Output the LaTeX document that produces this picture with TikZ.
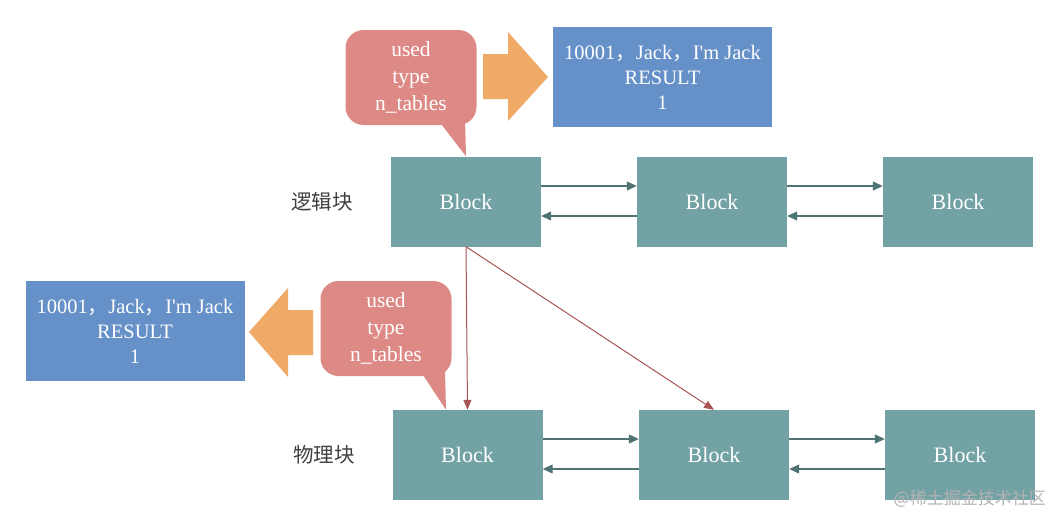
\documentclass[tikz,border=0pt]{standalone}
\usepackage{fontspec}
\setmainfont{Liberation Serif}
\newfontfamily\tms{Liberation Serif}
\newfontfamily\cjk{Noto Sans CJK SC}
\usetikzlibrary{arrows.meta}
\definecolor{blockc}{HTML}{73A2A5}
\definecolor{bluec}{HTML}{6690C8}
\definecolor{callc}{HTML}{DD8A86}
\definecolor{orangec}{HTML}{EEAA66}
\definecolor{linkc}{HTML}{4F7373}
\definecolor{redc}{HTML}{A85454}
\tikzset{
  blockbox/.style={fill=blockc, draw=none, minimum width=150pt, minimum height=90pt, inner sep=0pt, text=white, font=\tms\fontsize{22}{24}\selectfont},
  resbox/.style={fill=bluec, draw=none, minimum width=219pt, minimum height=100pt, inner sep=0pt, text=white, align=center, font=\tms\fontsize{20.5}{25}\selectfont},
  callbox/.style={fill=callc, draw=none, rounded corners=18pt, minimum width=131pt, minimum height=95pt, inner sep=0pt, text=white, align=center, font=\tms\fontsize{21.5}{27}\selectfont},
  rowlabel/.style={font=\cjk\fontsize{20.5}{24}\selectfont, text=black!75, inner sep=0pt},
  conn/.style={draw=linkc, line width=1.2pt, -{Triangle[length=10pt,width=9pt]}},
  redarrow/.style={draw=redc, line width=1pt, -{Triangle[length=10pt,width=8pt]}},
  bigarrow/.style={fill=orangec, draw=none}
}
\begin{document}
\begin{tikzpicture}[x=1pt,y=-1pt]
\useasboundingbox (0,0) rectangle (1064,530);

% top row
\node[blockbox] (t1) at (466,201.5) {Block};
\node[blockbox] (t2) at (712,201.5) {Block};
\node[blockbox] (t3) at (958,201.5) {Block};
% bottom row
\node[blockbox] (b1) at (467.5,455) {Block};
\node[blockbox] (b2) at (714,455) {Block};
\node[blockbox] (b3) at (960,455) {Block};

\node[rowlabel] (l1) at (322,201.5) {逻辑块};
\node[rowlabel] (l2) at (324,455) {物理块};

% links
\draw[conn] ([yshift=15.5pt]t1.east) -- ([yshift=15.5pt]t2.west);
\draw[conn] ([yshift=-14.5pt]t2.west) -- ([yshift=-14.5pt]t1.east);
\draw[conn] ([yshift=15.5pt]t2.east) -- ([yshift=15.5pt]t3.west);
\draw[conn] ([yshift=-14.5pt]t3.west) -- ([yshift=-14.5pt]t2.east);
\draw[conn] ([yshift=16pt]b1.east) -- ([yshift=16pt]b2.west);
\draw[conn] ([yshift=-14pt]b2.west) -- ([yshift=-14pt]b1.east);
\draw[conn] ([yshift=16pt]b2.east) -- ([yshift=16pt]b3.west);
\draw[conn] ([yshift=-14pt]b3.west) -- ([yshift=-14pt]b2.east);

% red mapping arrows
\draw[redarrow] (t1.south) -- (b1.north);
\draw[redarrow] (t1.south) -- (b2.north);

% result boxes
\node[resbox] (r1) at (662.5,77) {10001{\cjk ，}Jack{\cjk ，}I'm Jack\\RESULT\\1};
\node[resbox] (r2) at (135,331) {10001{\cjk ，}Jack{\cjk ，}I'm Jack\\RESULT\\1};

% callouts
\fill[callc] (438,120) -- (t1.north) -- (465,118) -- cycle;
\node[callbox] (c1) at (411,77.5) {used\\type\\n\_tables};
\fill[callc] (421,372) -- (b1.north west -| 446,0) -- (445,370) -- cycle;
\node[callbox] (c2) at (386,328.5) {used\\type\\n\_tables};

% orange arrows
\fill[bigarrow] (483,54) -- (508,54) -- (508,32) -- (548,77) -- (508,121) -- (508,99) -- (483,99) -- cycle;
\fill[bigarrow] (313,310) -- (288,310) -- (288,288) -- (249,332) -- (288,377) -- (288,355) -- (313,355) -- cycle;

% watermark
\node[anchor=east, font=\cjk\fontsize{17}{20}\selectfont, text=gray!60, inner sep=0pt] (wm) at (1046,499) {@稀土掘金技术社区};
\end{tikzpicture}
\end{document}
